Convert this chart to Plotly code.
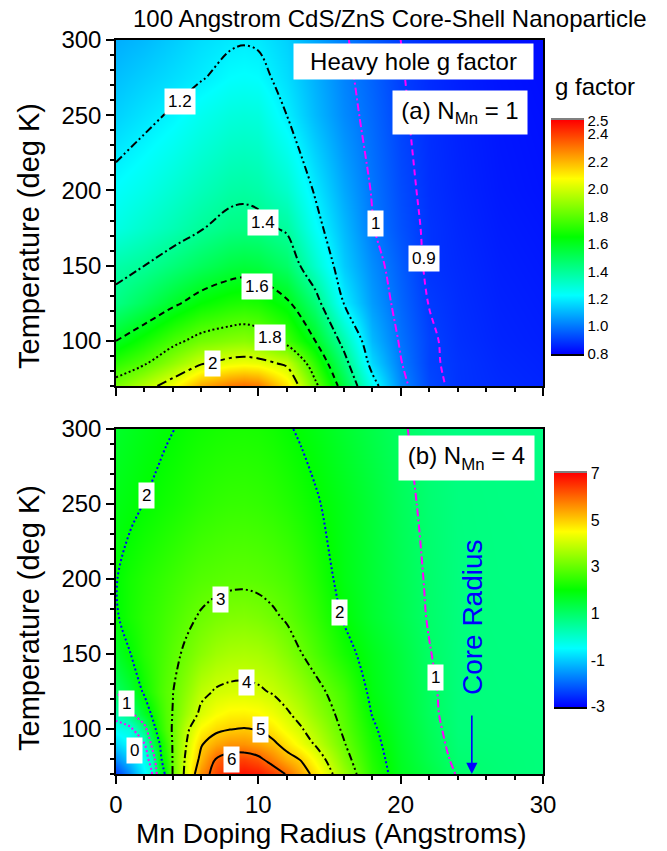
import plotly.graph_objects as go

# ---------------- DATA ----------------
# Panel (a): heavy-hole g factor, N_Mn = 1
xa = [0, 2, 4, 6, 8, 9, 10, 12, 14, 16, 18, 20, 22, 24, 27, 30]
Ta = [70, 85, 100, 125, 150, 175, 200, 250, 275, 300]
ga_T070 = [1.85, 1.95, 2.06, 2.22, 2.30, 2.32, 2.30, 2.12, 1.83, 1.54, 1.25, 1.03, 0.92, 0.885, 0.87, 0.86]
ga_T085 = [1.72, 1.79, 1.89, 1.99, 2.04, 2.05, 2.04, 1.98, 1.72, 1.45, 1.16, 1.005, 0.91, 0.885, 0.865, 0.855]
ga_T100 = [1.60, 1.68, 1.77, 1.84, 1.87, 1.88, 1.86, 1.76, 1.60, 1.36, 1.11, 0.99, 0.91, 0.88, 0.86, 0.85]
ga_T125 = [1.43, 1.50, 1.58, 1.65, 1.69, 1.70, 1.69, 1.62, 1.45, 1.20, 1.06, 0.97, 0.898, 0.875, 0.855, 0.845]
ga_T150 = [1.37, 1.40, 1.45, 1.50, 1.545, 1.555, 1.545, 1.48, 1.31, 1.14, 1.035, 0.955, 0.885, 0.87, 0.85, 0.84]
ga_T175 = [1.27, 1.31, 1.35, 1.395, 1.43, 1.435, 1.43, 1.385, 1.235, 1.11, 1.005, 0.935, 0.885, 0.865, 0.845, 0.835]
ga_T200 = [1.23, 1.26, 1.30, 1.34, 1.375, 1.38, 1.37, 1.31, 1.19, 1.08, 0.995, 0.925, 0.88, 0.86, 0.84, 0.83]
ga_T250 = [1.15, 1.18, 1.21, 1.25, 1.28, 1.285, 1.28, 1.20, 1.11, 1.03, 0.975, 0.91, 0.875, 0.855, 0.835, 0.825]
ga_T275 = [1.12, 1.145, 1.17, 1.195, 1.225, 1.23, 1.225, 1.17, 1.095, 1.02, 0.965, 0.905, 0.872, 0.852, 0.832, 0.822]
ga_T300 = [1.09, 1.11, 1.14, 1.17, 1.19, 1.195, 1.19, 1.15, 1.08, 1.01, 0.955, 0.90, 0.87, 0.85, 0.83, 0.82]
ga = [ga_T070, ga_T085, ga_T100, ga_T125, ga_T150, ga_T175, ga_T200, ga_T250, ga_T275, ga_T300]
levels_a = [0.9, 1.0, 1.2, 1.4, 1.6, 1.8, 2.0]
cbar_a_ticks = [0.8, 1.0, 1.2, 1.4, 1.6, 1.8, 2.0, 2.2, 2.4, 2.5]

# Panel (b): N_Mn = 4
xb = [0, 1, 2, 2.5, 3, 3.5, 4, 5, 6, 7, 8, 9, 10, 11, 12, 13, 14, 16, 18, 20, 22, 24, 27, 30]
Tb = [70, 80, 90, 100, 110, 125, 150, 175, 200, 250, 300]
gb_T070 = [-2.4, -1.6, -0.6, -0.1, 1.4, 2.1, 3.05, 4.3, 5.6, 6.3, 6.75, 6.85, 6.75, 6.4, 5.95, 5.35, 4.8, 3.5, 2.4, 1.7, 1.35, 0.97, 0.85, 0.8]
gb_T080 = [-1.6, -1.0, -0.35, 0.3, 1.8, 2.3, 3.05, 4.2, 5.2, 6.0, 6.3, 6.35, 6.15, 5.7, 5.25, 4.95, 4.4, 3.25, 2.3, 1.65, 1.25, 0.9, 0.84, 0.8]
gb_T090 = [-0.9, -0.5, -0.02, 1.1, 1.9, 2.5, 3.05, 4.05, 4.95, 5.35, 5.55, 5.55, 5.4, 5.15, 4.75, 4.35, 3.95, 3.05, 2.2, 1.6, 1.2, 0.85, 0.82, 0.79]
gb_T100 = [-0.35, -0.15, 0.75, 1.6, 2.3, 2.75, 3.05, 3.9, 4.55, 4.85, 4.98, 5.03, 4.97, 4.7, 4.35, 4.05, 3.7, 2.9, 2.1, 1.55, 1.15, 0.82, 0.8, 0.78]
gb_T110 = [0.3, 0.8, 1.6, 2.05, 2.45, 2.8, 3.02, 3.6, 4.15, 4.45, 4.6, 4.62, 4.55, 4.35, 4.08, 3.8, 3.45, 2.8, 1.98, 1.5, 1.1, 0.81, 0.78, 0.77]
gb_T125 = [1.02, 1.45, 2.1, 2.4, 2.65, 2.85, 2.99, 3.4, 3.85, 4.05, 4.12, 4.13, 4.08, 3.95, 3.75, 3.5, 3.2, 2.65, 1.85, 1.45, 1.08, 0.8, 0.77, 0.76]
gb_T150 = [1.6, 1.99, 2.35, 2.5, 2.62, 2.75, 2.88, 3.1, 3.35, 3.55, 3.65, 3.68, 3.64, 3.5, 3.28, 3.02, 2.75, 2.2, 1.75, 1.38, 1.02, 0.79, 0.76, 0.75]
gb_T175 = [1.95, 2.2, 2.4, 2.48, 2.56, 2.65, 2.73, 2.9, 3.05, 3.17, 3.24, 3.26, 3.2, 3.08, 2.93, 2.72, 2.5, 1.95, 1.55, 1.25, 0.97, 0.78, 0.75, 0.74]
gb_T200 = [1.98, 2.18, 2.33, 2.4, 2.46, 2.52, 2.58, 2.7, 2.8, 2.85, 2.89, 2.9, 2.87, 2.8, 2.7, 2.52, 2.32, 1.82, 1.5, 1.2, 0.95, 0.77, 0.74, 0.73]
gb_T250 = [1.8, 1.9, 2.01, 2.06, 2.11, 2.16, 2.2, 2.3, 2.4, 2.47, 2.51, 2.52, 2.49, 2.42, 2.32, 2.2, 2.06, 1.75, 1.45, 1.13, 0.9, 0.76, 0.73, 0.72]
gb_T300 = [1.6, 1.7, 1.8, 1.85, 1.9, 1.95, 1.99, 2.08, 2.15, 2.2, 2.23, 2.24, 2.22, 2.15, 2.05, 1.94, 1.82, 1.55, 1.3, 1.05, 0.85, 0.74, 0.72, 0.71]
gb = [gb_T070, gb_T080, gb_T090, gb_T100, gb_T110, gb_T125, gb_T150, gb_T175, gb_T200, gb_T250, gb_T300]
levels_b = [0, 1, 2, 3, 4, 5, 6]
cbar_b_ticks = [-3, -1, 1, 3, 5, 7]

# contour label texts
labels_a = ["1.2", "1.4", "1.6", "1.8", "2", "1", "0.9"]
labels_b = ["2", "2", "3", "4", "5", "6", "1", "0", "1"]

# ---------------- STYLE ----------------
FONT = "Liberation Sans, Arial, sans-serif"
DASHDOTDOT = "8px,3px,2px,3px,2px,3px"
DASHDOT = "8px,3px,2px,3px"
LONGDASHDOT = "10px,4px,3px,4px"
DASH = "6px,4px"
DOT = "2px,2.5px"
style_a = {0.9: ("#ff00ff", DASH), 1.0: ("#ff00ff", DASHDOT), 1.2: ("black", DASHDOTDOT),
           1.4: ("black", DASHDOT), 1.6: ("black", DASH), 1.8: ("black", DOT), 2.0: ("black", LONGDASHDOT)}
style_b = {0: ("#ff00ff", DOT), 1: ("#ff00ff", DASHDOT), 2: ("#0000ff", DOT), 3: ("black", DASHDOTDOT),
           4: ("black", DASHDOT), 5: ("black", "solid"), 6: ("black", "solid")}
label_pos_a = [(4.5, 259), (10.34, 178.7), (9.88, 136), (10.85, 102.5), (6.75, 85), (18.21, 178), (21.62, 154.6)]
label_pos_b = [(2.13, 255.6), (15.67, 177.4), (7.36, 186.5), (9.18, 131), (10.15, 99.6), (8.12, 80),
               (0.75, 117.1), (1.31, 86), (22.42, 134.4)]


def cap_scale(vmin, vmax):
    R = vmax - vmin
    pad = R * 0.01
    cmin, cmax = vmin - pad, vmax + pad
    f = lambda v: (v - cmin) / (cmax - cmin)
    base = [(0, "#0000ff"), (0.25, "#00ffff"), (0.5, "#00ff00"), (0.75, "#ffff00"), (1, "#ff0000")]
    cs = [[0, "#000000"], [f(vmin), "#000000"]]
    for p, c in base:
        cs.append([f(vmin + p * R), c])
    cs += [[f(vmax), "#808080"], [1, "#808080"]]
    return cs, cmin, cmax


# paper coordinate helpers (plot area: x 116..543 px, y 40..774 px)
L, R_, T_, B_ = 116, 124, 40, 77
W, H = 667, 851
PW, PH = W - L - R_, H - T_ - B_
px = lambda p: (p - L) / PW
py = lambda p: (H - B_ - p) / PH

fig = go.Figure()

cs_a, cmin_a, cmax_a = cap_scale(0.8, 2.5)
cs_b, cmin_b, cmax_b = cap_scale(-3, 7)

fig.add_trace(go.Heatmap(
    x=xa, y=Ta, z=ga, zsmooth="best", colorscale=cs_a, zmin=cmin_a, zmax=cmax_a,
    xaxis="x", yaxis="y", hoverinfo="skip",
    colorbar=dict(x=px(551), xanchor="left", xpad=0, y=py(118), yanchor="top", ypad=0,
                  lenmode="pixels", len=238, thicknessmode="pixels", thickness=33,
                  outlinewidth=0, tickvals=cbar_a_ticks, ticktext=[f"{v:.1f}" for v in cbar_a_ticks],
                  ticks="", tickfont=dict(size=15, family=FONT, color="black"))))

fig.add_trace(go.Heatmap(
    x=xb, y=Tb, z=gb, zsmooth="best", colorscale=cs_b, zmin=cmin_b, zmax=cmax_b,
    xaxis="x2", yaxis="y2", hoverinfo="skip",
    colorbar=dict(x=px(554), xanchor="left", xpad=0, y=py(471), yanchor="top", ypad=0,
                  lenmode="pixels", len=238, thicknessmode="pixels", thickness=33,
                  outlinewidth=0, tickvals=cbar_b_ticks, ticktext=[str(v) for v in cbar_b_ticks],
                  ticks="", tickfont=dict(size=16, family=FONT, color="black"))))


def add_level(x, y, z, lev, color, dash, xa_, ya_):
    fig.add_trace(go.Contour(
        x=x, y=y, z=z, autocontour=False,
        contours=dict(start=lev, end=lev, size=1, coloring="none", showlabels=False),
        line=dict(color=color, dash=dash, width=2, smoothing=1),
        showscale=False, hoverinfo="skip", xaxis=xa_, yaxis=ya_))


for lev in levels_a:
    c, d = style_a[lev]
    add_level(xa, Ta, ga, lev, c, d, "x", "y")

for lev in levels_b:
    c, d = style_b[lev]
    if lev == 1:
        # left branch dotted, right branch dash-dot
        add_level(xb[:7], Tb, [r[:7] for r in gb], lev, c, DOT, "x2", "y2")
        add_level(xb[6:], Tb, [r[6:] for r in gb], lev, c, DASHDOT, "x2", "y2")
    else:
        add_level(xb, Tb, gb, lev, c, d, "x2", "y2")

C = dict(xanchor="center", yanchor="middle", showarrow=False)
ann = []
for t, (x, y) in zip(labels_a, label_pos_a):
    ann.append(dict(C, x=x, y=y, xref="x", yref="y", text=t, bgcolor="white",
                    borderpad=3, font=dict(size=17, family=FONT, color="black")))
for t, (x, y) in zip(labels_b, label_pos_b):
    ann.append(dict(C, x=x, y=y, xref="x2", yref="y2", text=t, bgcolor="white",
                    borderpad=3, font=dict(size=17, family=FONT, color="black")))

# boxes
ann.append(dict(C, x=20.9, y=285.7, xref="x", yref="y", text="Heavy hole g factor",
                bgcolor="white", width=239, height=35, borderpad=0,
                font=dict(size=24, family=FONT, color="black")))
ann.append(dict(C, x=24.15, y=251.9, xref="x", yref="y", text="(a) N<sub>Mn</sub> = 1",
                bgcolor="white", width=134, height=43, borderpad=0,
                font=dict(size=24, family=FONT, color="black")))
ann.append(dict(C, x=24.63, y=280.9, xref="x2", yref="y2", text="(b) N<sub>Mn</sub> = 4",
                bgcolor="white", width=135, height=44, borderpad=0,
                font=dict(size=24, family=FONT, color="black")))
# Core radius
ann.append(dict(C, x=25.0, y=174.5, xref="x2", yref="y2", text="Core Radius", textangle=-90,
                font=dict(size=28, family=FONT, color="#0000ff")))
ann.append(dict(x=25.0, y=70, xref="x2", yref="y2", ax=25.0, ay=110, axref="x2", ayref="y2", text="",
                showarrow=True, arrowhead=2, arrowsize=1.4, arrowwidth=1.6, arrowcolor="#0000ff", standoff=0))

# titles
ann.append(dict(C, x=px(390), y=py(19), xref="paper", yref="paper",
                text="100 Angstrom CdS/ZnS Core-Shell Nanoparticle",
                font=dict(size=24, family=FONT, color="black")))
ann.append(dict(C, x=px(595), y=py(86), xref="paper", yref="paper", text="g factor",
                font=dict(size=24, family=FONT, color="black")))
ann.append(dict(C, x=px(29), y=py(236), xref="paper", yref="paper", text="Temperature (deg K)", textangle=-90,
                font=dict(size=29, family=FONT, color="black")))
ann.append(dict(C, x=px(29), y=py(618), xref="paper", yref="paper", text="Temperature (deg K)", textangle=-90,
                font=dict(size=29, family=FONT, color="black")))
ann.append(dict(C, x=px(331.5), y=py(833), xref="paper", yref="paper", text="Mn Doping Radius (Angstroms)",
                font=dict(size=28, family=FONT, color="black")))

axis_common = dict(showgrid=False, zeroline=False, showline=True, linecolor="black", linewidth=1.5,
                   mirror=True, ticks="outside", ticklen=8, tickwidth=1.5, tickcolor="black",
                   tickfont=dict(size=24, family=FONT, color="black"))
xcommon = dict(axis_common, range=[0, 30], tick0=0, dtick=10,
               minor=dict(ticks="outside", ticklen=4, tickwidth=1.5, tickcolor="black", dtick=2))
ycommon = dict(axis_common, range=[70, 300], tick0=0, dtick=50,
               minor=dict(ticks="outside", ticklen=4, tickwidth=1.5, tickcolor="black", dtick=10))

dom_top = [py(386), 1]
dom_bot = [0, py(429)]

fig.update_layout(
    width=W, height=H, margin=dict(l=L, r=R_, t=T_, b=B_),
    paper_bgcolor="white", plot_bgcolor="white", showlegend=False,
    font=dict(family=FONT, color="black"),
    xaxis=dict(xcommon, anchor="y", domain=[0, 1], showticklabels=False),
    yaxis=dict(ycommon, anchor="x", domain=dom_top),
    xaxis2=dict(xcommon, anchor="y2", domain=[0, 1]),
    yaxis2=dict(ycommon, anchor="x2", domain=dom_bot),
    annotations=ann,
)

fig.write_html("out.html")
